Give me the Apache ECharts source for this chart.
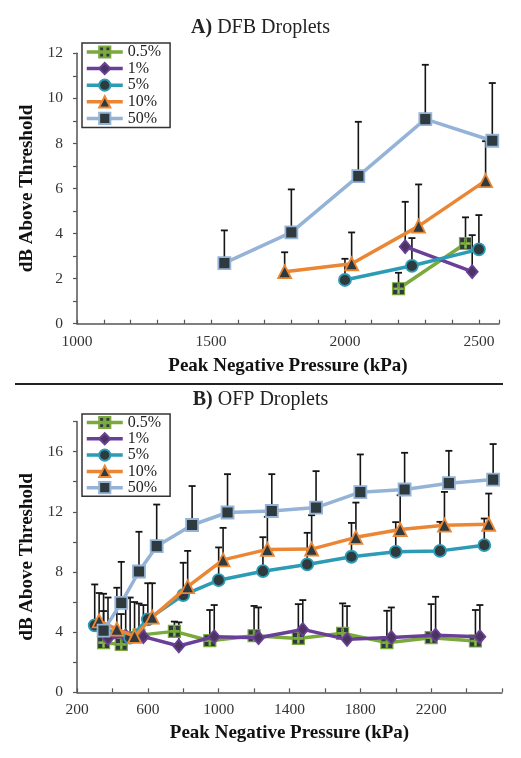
<!DOCTYPE html>
<html>
<head>
<meta charset="utf-8">
<script src="https://cdn.jsdelivr.net/npm/echarts@6/dist/echarts.min.js"></script>
<style>html,body{margin:0;padding:0;background:#fff;}#c{width:521px;height:758px;}</style>
</head>
<body>
<div id="c"></div>
<script>
// ---------- Data: Panel A (DFB droplets) ----------
const seriesNames = ['0.5%', '1%', '5%', '10%', '50%'];
const A_x05 = [2200, 2450];
const A_y05 = [1.55, 3.56];
const A_e05 = [2.26, 4.72];
const A_x1 = [2225, 2475];
const A_y1 = [3.42, 2.31];
const A_e1 = [5.41, 3.93];
const A_x5 = [2000, 2250, 2500];
const A_y5 = [1.94, 2.57, 3.30];
const A_e5 = [2.88, 3.80, 4.82];
const A_x10 = [1775, 2025, 2275, 2525];
const A_y10 = [2.31, 2.66, 4.33, 6.35];
const A_e10 = [3.17, 4.05, 6.18, 8.10];
const A_x50 = [1550, 1800, 2050, 2300, 2550];
const A_y50 = [2.69, 4.05, 6.55, 9.08, 8.12];
const A_e50 = [4.14, 5.96, 8.96, 11.49, 10.68];

// ---------- Data: Panel B (OFP droplets) ----------
const B_x05 = [350, 450, 550, 750, 950, 1200, 1450, 1700, 1950, 2200, 2450];
const B_y05 = [3.30, 3.19, 3.80, 4.05, 3.43, 3.76, 3.58, 3.92, 3.30, 3.63, 3.41];
const B_e05 = [5.40, 5.20, 5.90, 4.70, 5.47, 5.74, 5.86, 5.91, 5.42, 5.86, 5.47];
const B_x1 = [375, 475, 575, 775, 975, 1225, 1475, 1725, 1975, 2225, 2475];
const B_y1 = [3.60, 3.75, 3.70, 3.08, 3.70, 3.63, 4.18, 3.52, 3.65, 3.80, 3.70];
const B_e1 = [6.30, 6.25, 5.80, 4.65, 5.80, 5.64, 6.13, 5.73, 5.64, 6.35, 5.80];
const B_x5 = [300, 500, 600, 800, 1000, 1250, 1500, 1750, 2000, 2250, 2500];
const B_y5 = [4.45, 3.63, 4.85, 6.46, 7.45, 8.05, 8.50, 9.01, 9.34, 9.40, 9.78];
const B_e5 = [7.17, 6.30, 7.25, 8.61, 9.63, 10.31, 10.60, 11.26, 11.31, 11.33, 11.55];
const B_x10 = [325, 425, 525, 625, 825, 1025, 1275, 1525, 1775, 2025, 2275, 2525];
const B_y10 = [4.75, 4.20, 3.72, 5.00, 7.02, 8.80, 9.50, 9.52, 10.30, 10.82, 11.11, 11.17];
const B_e10 = [6.60, 6.95, 6.00, 7.25, 9.40, 10.93, 11.66, 11.77, 12.61, 13.10, 13.32, 13.21];
const B_x50 = [350, 450, 550, 650, 850, 1050, 1300, 1550, 1800, 2050, 2300, 2550];
const B_y50 = [4.10, 5.95, 8.03, 9.71, 11.12, 11.95, 12.05, 12.28, 13.30, 13.48, 13.90, 14.14];
const B_e50 = [6.55, 8.67, 10.67, 12.48, 13.71, 14.50, 14.50, 14.70, 15.81, 15.92, 16.05, 16.50];

// Axis tick labels
const A_xLabels = [1000, 1500, 2000, 2500];
const A_yLabels = [0, 2, 4, 6, 8, 10, 12];
const B_xLabels = [200, 600, 1000, 1400, 1800, 2200];
const B_yLabels = [0, 4, 8, 12, 16];

// ---------- Styles ----------
const FONT = '"Liberation Serif", "Times New Roman", serif';
const DARK = '#2f3a3e';
const styles = {
  '0.5%': {color: '#7aaa3c', symbol: 'path://M0,0H10V10H0Z M4.4,1.2V4.4H1.2V5.6H4.4V8.8H5.6V5.6H8.8V4.4H5.6V1.2Z', size: 12, fill: DARK, bw: 1.2},
  '1%':   {color: '#6a3f98', symbol: 'diamond', size: [11, 13], fill: '#4b3560', bw: 1.8},
  '5%':   {color: '#2c9bb4', symbol: 'circle', size: 12, fill: DARK, bw: 1.8},
  '10%':  {color: '#eb8634', symbol: 'triangle', size: 13, fill: DARK, bw: 1.8},
  '50%':  {color: '#95b3d7', symbol: 'rect', size: 12, fill: DARK, bw: 1.8}
};

const panelA = {
  '0.5%': [A_x05, A_y05, A_e05], '1%': [A_x1, A_y1, A_e1], '5%': [A_x5, A_y5, A_e5],
  '10%': [A_x10, A_y10, A_e10], '50%': [A_x50, A_y50, A_e50]
};
const panelB = {
  '0.5%': [B_x05, B_y05, B_e05], '1%': [B_x1, B_y1, B_e1], '5%': [B_x5, B_y5, B_e5],
  '10%': [B_x10, B_y10, B_e10], '50%': [B_x50, B_y50, B_e50]
};

function renderErr(params, api) {
  const p0 = api.coord([api.value(0), api.value(1)]);
  const p1 = api.coord([api.value(0), api.value(2)]);
  const w = 3.5;
  return {
    type: 'group',
    children: [
      {type: 'line', shape: {x1: p0[0], y1: p0[1], x2: p1[0], y2: p1[1]}, style: {stroke: '#151515', lineWidth: 1.6}},
      {type: 'line', shape: {x1: p1[0] - w, y1: p1[1], x2: p1[0] + w, y2: p1[1]}, style: {stroke: '#151515', lineWidth: 1.8}}
    ]
  };
}

const series = [];
[[panelA, 0], [panelB, 1]].forEach(([panel, idx]) => {
  seriesNames.forEach((name) => {
    const [xs, ys, es] = panel[name];
    series.push({
      type: 'custom', name: name + ' err', xAxisIndex: idx, yAxisIndex: idx, z: 2,
      renderItem: renderErr, silent: true,
      data: xs.map((x, i) => [x, ys[i], es[i]])
    });
  });
  seriesNames.forEach((name, k) => {
    const [xs, ys] = panel[name];
    const s = styles[name];
    series.push({
      type: 'line', name: name, xAxisIndex: idx, yAxisIndex: idx, z: 3 + k,
      data: xs.map((x, i) => [x, ys[i]]),
      symbol: s.symbol, symbolSize: s.size, showAllSymbol: true,
      lineStyle: {color: s.color, width: 3.5},
      itemStyle: {color: s.fill, borderColor: s.color, borderWidth: s.bw},
      emphasis: {disabled: true}, animation: false
    });
  });
});

function axisCommon(labels) {
  return {
    axisLine: {lineStyle: {color: '#555', width: 1.5}},
    splitLine: {show: false},
    axisLabel: {
      color: '#333', fontFamily: FONT, fontSize: 15.5,
      formatter: (v) => labels.indexOf(v) >= 0 ? String(v) : ''
    }
  };
}

const legendCommon = {
  data: seriesNames, orient: 'vertical', left: 82, itemWidth: 36, itemHeight: 14,
  borderColor: '#333', borderWidth: 1.5, selectedMode: false,
  lineStyle: {width: 3.5},
  textStyle: {fontFamily: FONT, fontSize: 16, color: '#222'}
};

const option = {
  backgroundColor: '#fff',
  animation: false,
  title: [
    {text: '{b|A)} DFB Droplets', left: 'center', top: 18, padding: 0,
     textStyle: {fontFamily: FONT, fontSize: 20, fontWeight: 'normal', color: '#222',
       rich: {b: {fontFamily: FONT, fontSize: 20, fontWeight: 'bold', color: '#222'}}}},
    {text: '{b|B)} OFP Droplets', left: 'center', top: 390, padding: 0,
     textStyle: {fontFamily: FONT, fontSize: 20, fontWeight: 'normal', color: '#222',
       rich: {b: {fontFamily: FONT, fontSize: 20, fontWeight: 'bold', color: '#222'}}}}
  ],
  graphic: [
    {type: 'line', shape: {x1: 15, y1: 384, x2: 503, y2: 384}, style: {stroke: '#222', lineWidth: 2}}
  ],
  legend: [
    Object.assign({}, legendCommon, {top: 43, itemGap: 0.6, padding: [1, 9, 1, 3]}),
    Object.assign({}, legendCommon, {top: 414, itemGap: 0.3, padding: [0.5, 9, 0.5, 3]})
  ],
  grid: [
    {left: 77, right: 22, top: 53.3, height: 270.4},
    {left: 77, right: 19, top: 421.5, height: 270.8}
  ],
  xAxis: [
    Object.assign(axisCommon(A_xLabels), {
      type: 'value', gridIndex: 0, min: 1000, max: 2575, interval: 100,
      name: 'Peak Negative Pressure (kPa)', nameLocation: 'middle', nameGap: 33,
      nameTextStyle: {fontFamily: FONT, fontSize: 19, fontWeight: 'bold', color: '#111'},
      axisTick: {inside: true, length: 4, lineStyle: {color: '#555', width: 1.2}}
    }),
    Object.assign(axisCommon(B_xLabels), {
      type: 'value', gridIndex: 1, min: 200, max: 2600, interval: 200,
      name: 'Peak Negative Pressure (kPa)', nameLocation: 'middle', nameGap: 31,
      nameTextStyle: {fontFamily: FONT, fontSize: 19, fontWeight: 'bold', color: '#111'},
      axisTick: {inside: true, length: 4, lineStyle: {color: '#555', width: 1.2}}
    })
  ],
  yAxis: [
    Object.assign(axisCommon(A_yLabels), {
      type: 'value', gridIndex: 0, min: 0, max: 12, interval: 1,
      name: 'dB Above Threshold', nameLocation: 'middle', nameGap: 32,
      nameTextStyle: {fontFamily: FONT, fontSize: 19, fontWeight: 'bold', color: '#111'},
      axisTick: {inside: false, length: 4, lineStyle: {color: '#555', width: 1.2}}
    }),
    Object.assign(axisCommon(B_yLabels), {
      type: 'value', gridIndex: 1, min: 0, max: 18, interval: 2,
      name: 'dB Above Threshold', nameLocation: 'middle', nameGap: 32,
      nameTextStyle: {fontFamily: FONT, fontSize: 19, fontWeight: 'bold', color: '#111'},
      axisTick: {inside: false, length: 4, lineStyle: {color: '#555', width: 1.2}}
    })
  ],
  series: series
};
option.yAxis.forEach(a => { a.axisLabel.margin = 14; });
option.xAxis.forEach(a => { a.axisLabel.margin = 10; });

const chart = echarts.init(document.getElementById('c'), null, {renderer: 'canvas'});
chart.setOption(option);
</script>
</body>
</html>
